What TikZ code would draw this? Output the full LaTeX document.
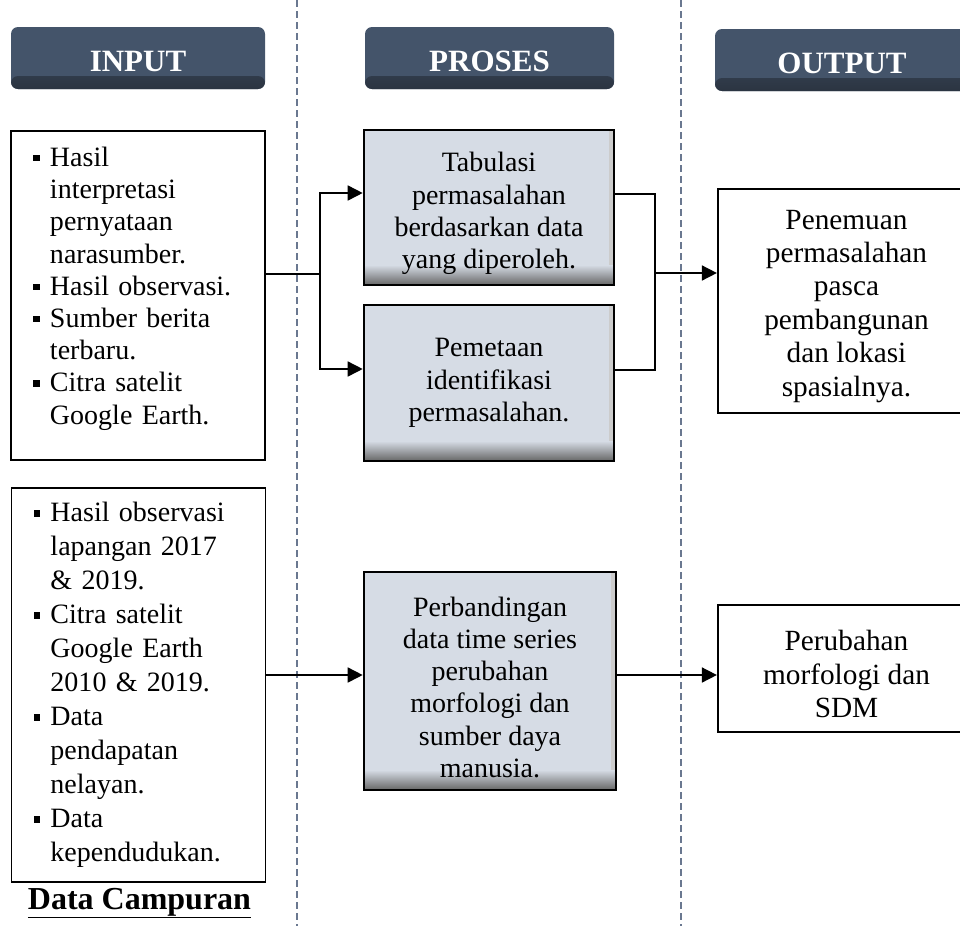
\documentclass[tikz,border=0pt]{standalone}
\usepackage{fontspec}
\setmainfont{Liberation Serif}
\usetikzlibrary{arrows.meta}

\definecolor{hdrblue}{HTML}{44546A}
\definecolor{hdrdark}{HTML}{2B3441}
\definecolor{procfill}{HTML}{D6DCE5}
\definecolor{dashgray}{HTML}{6A7890}

\newcommand\sqbul{\makebox[17pt][l]{\rule[5pt]{6.5pt}{6.5pt}}}
\newcommand\bind{\hspace*{17pt}}

\tikzset{
  hdr/.style={rounded corners=7pt, fill=hdrblue, text=white, inner sep=0pt,
    text height=26pt, text depth=0pt,
    font=\bfseries\fontsize{31}{36}\selectfont,
    path picture={\shade[top color=hdrblue, bottom color=hdrdark]
      (path picture bounding box.south west) rectangle
      ([yshift=13pt]path picture bounding box.south east);}},
  inbox/.style={draw, line width=1.5pt, inner xsep=22pt, inner ysep=0pt,
    text width=210pt, align=left},
  procbox/.style={draw, line width=2.6pt, fill=procfill, inner sep=0pt,
    align=center, font=\fontsize{28}{32.3}\selectfont,
    path picture={
      \shade[left color=procfill, right color=gray!40]
        ([xshift=-5pt]path picture bounding box.north east) rectangle
        (path picture bounding box.south east);
      \shade[top color=procfill, bottom color=black!60]
        ([yshift=20pt]path picture bounding box.south west) rectangle
        (path picture bounding box.south east);}},
  outbox/.style={draw, line width=2.2pt, inner sep=0pt, align=center,
    font=\fontsize{29.3}{33.4}\selectfont},
  flow/.style={line width=1.6pt, -{Triangle[length=15pt,width=15pt]}},
  link/.style={line width=1.6pt},
  divider/.style={dashgray, line width=1.6pt, dash pattern=on 7pt off 4pt}
}

\begin{document}
\begin{tikzpicture}[x=1pt,y=-1pt]
\useasboundingbox (0,0) rectangle (960,926);

% column dividers
\draw[divider] (297,0) -- (297,926);
\draw[divider] (681,0) -- (681,926);

% headers
\node[hdr, minimum width=254pt, minimum height=62pt] (hinput) at (138,58) {INPUT};
\node[hdr, minimum width=249pt, minimum height=62pt] (hproses) at (489.5,58) {PROSES};
\node[hdr, minimum width=254pt, minimum height=62pt] (houtput) at (842,60) {OUTPUT};

% input column
\node[inbox, minimum height=329pt, font=\fontsize{28}{32.2}\selectfont] (in1) at (138,295.5) {%
  \sqbul Hasil\\ \bind interpretasi\\ \bind pernyataan\\ \bind narasumber.\\
  \sqbul Hasil observasi.\\
  \sqbul Sumber berita\\ \bind terbaru.\\
  \sqbul Citra satelit\\ \bind Google Earth.\rule[-20pt]{0pt}{20pt}};
\node[inbox, minimum height=394pt, font=\fontsize{28}{34}\selectfont] (in2) at (138.5,685) {%
  \sqbul Hasil observasi\\ \bind lapangan 2017\\ \bind \& 2019.\\
  \sqbul Citra satelit\\ \bind Google Earth\\ \bind 2010 \& 2019.\\
  \sqbul Data\\ \bind pendapatan\\ \bind nelayan.\\
  \sqbul Data\\ \bind kependudukan.};
\node[font=\bfseries\fontsize{32}{36}\selectfont] (campur) at (139.5,903)
  {\underline{Data Campuran}};

% proses column
\node[procbox, minimum width=250pt, minimum height=155pt] (pr1) at (489,207.5)
  {\rule{0pt}{31.5pt}Tabulasi\\ permasalahan\\ berdasarkan data\\ yang diperoleh.};
\node[procbox, minimum width=250pt, minimum height=156pt] (pr2) at (489,383)
  {Pemetaan\\ identifikasi\\ permasalahan.};
\node[procbox, minimum width=252pt, minimum height=218pt] (pr3) at (490,681)
  {\rule{0pt}{32pt}Perbandingan\\ data time series\\ perubahan\\ morfologi dan\\ sumber daya\\ manusia.};

% output column
\node[outbox, minimum width=257pt, minimum height=224pt] (out1) at (846.5,301)
  {\rule{0pt}{29.5pt}Penemuan\\ permasalahan\\ pasca\\ pembangunan\\ dan lokasi\\ spasialnya.};
\node[outbox, minimum width=257pt, minimum height=127pt] (out2) at (846.5,668.5)
  {\rule{0pt}{32pt}Perubahan\\ morfologi dan\\ SDM};

% connectors
\coordinate (jina) at (320,274);
\coordinate (jinb) at (320,193);
\coordinate (jinc) at (320,369);
\coordinate (jouta) at (655,273);
\coordinate (joutb) at (655,194);
\coordinate (joutc) at (655,370);
\coordinate (row3) at (0,675);

\draw[link] (in1.east |- jina) -- (jina);
\draw[flow] (jina) -- (jinb) -- (jinb -| pr1.west);
\draw[flow] (jina) -- (jinc) -- (jinc -| pr2.west);
\draw[link] (pr1.east |- joutb) -- (joutb) -- (joutc) -- (pr2.east |- joutc);
\draw[flow] (jouta) -- (jouta -| out1.west);
\draw[flow] (in2.east |- row3) -- (pr3.west |- row3);
\draw[flow] (pr3.east |- row3) -- (out2.west |- row3);
\end{tikzpicture}
\end{document}
